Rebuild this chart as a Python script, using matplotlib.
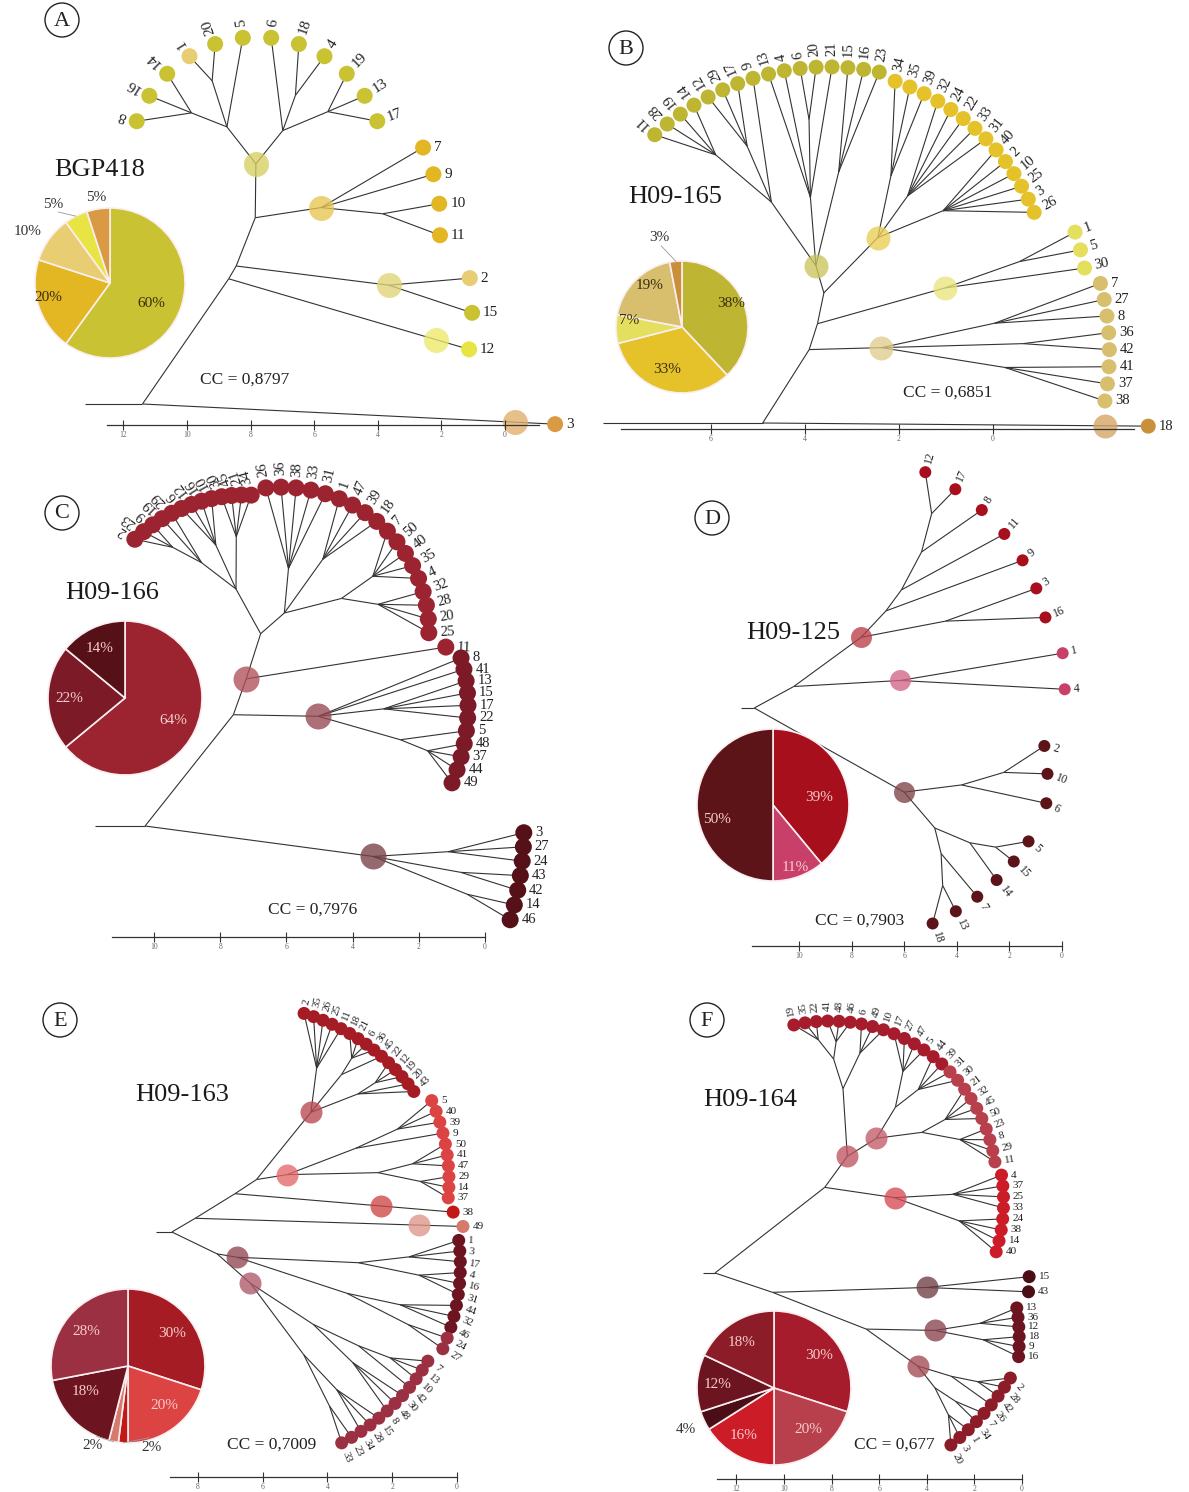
import numpy as np
import matplotlib.pyplot as plt
from matplotlib.collections import LineCollection
from matplotlib.colors import to_rgb
from matplotlib.patches import Circle

plt.rcParams['font.family'] = ['Liberation Serif', 'DejaVu Serif']

# ---------------- data ----------------
# leaves in drawing order (one list per arc group) and their colour category
A_groups = [['8', '16', '14', '1', '20', '5', '6', '18', '4', '19', '13', '17'],
            ['7', '9', '10', '11'], ['2', '15', '12'], ['3']]
A_cats = [[0, 0, 0, 2, 0, 0, 0, 0, 0, 0, 0, 0], [1, 1, 1, 1], [2, 0, 3], [4]]
A_tree = (11.4, [
    (6.1, [
        (5.6, [
            (3.96, [
                (2.5, ['7', '9', (1.2, ['10', '11'])], 'hl'),
                (2.5, [
                    (1.5, [(0.8, ['8', '16', '14']), (0.6, ['1', '20']), '5']),
                    (1.6, ['6', (0.9, ['18', '4']), (0.7, ['19', '13', '17'])]),
                ], 'hl'),
            ]),
            (1.96, ['2', '15'], 'hl'),
        ]),
        (0.85, ['12'], 'hl'),
    ]),
    (1.1, ['3'], 'hl'),
])
A_pie = [60, 20, 10, 5, 5]
A_colors = ['#c9c233', '#e3b624', '#e8cd72', '#e7e443', '#da9a44']

B_groups = [['11', '28', '19', '14', '12', '29', '17', '9', '13', '4', '6', '20', '21', '15', '16', '23'],
            ['34', '35', '39', '32', '24', '22', '33', '31', '40', '2', '10', '25', '3', '26'],
            ['1', '5', '30'], ['7', '27', '8', '36', '42', '41', '37', '38'], ['18']]
B_cats = [[0] * 16, [1] * 14, [2] * 3, [3] * 8, [4]]
B_tree = (4.9, [
    (3.5, [
        (3.1, [
            (2.65, [
                (2.3, [
                    (1.4, [(0.6, ['11', '28', '19', '14']), (0.7, ['12', '29', '17']), '9']),
                    (1.5, ['13', '4', (0.6, ['6', '20']), '21']),
                    (1.2, ['15', '16', '23']),
                ], 'hl'),
                (1.7, [
                    (1.0, ['34', '35', '39']),
                    (1.1, ['32', '24', '22', '33', '31']),
                    (0.9, ['40', '2', '10', '25', '3', '26']),
                ], 'hl'),
            ]),
            (1.6, [(0.7, ['1', '5']), '30'], 'hl'),
        ]),
        (2.65, [(1.3, ['7', '27', '8']), (1.0, ['36', '42']), (1.2, ['41', '37', '38'])], 'hl'),
    ]),
    (0.55, ['18'], 'hl'),
])
B_pie = [38, 33, 7, 19, 3]
B_colors = ['#beb633', '#e5c22a', '#e4df5e', '#d7bf6e', '#c98f3b']

C_groups = [['2', '23', '9', '19', '29', '6', '12', '16', '10', '30', '45', '21', '34'],
            ['26', '36', '38', '33', '31', '1', '47', '39', '18', '7', '50', '40', '35', '4',
             '32', '28', '20', '25'],
            ['11'],
            ['8', '41', '13', '15', '17', '22', '5', '48', '37', '44', '49'],
            ['3', '27', '24', '43', '42', '14', '46']]
C_cats = [[0] * 13, [0] * 18, [0], [1] * 11, [2] * 7]
C_tree = (10.27, [
    (5.65, [
        (4.55, [
            (3.2, [
                (2.05, [
                    (1.2, [(0.6, ['2', '23', '9']), '19', '29']),
                    (1.0, ['6', '12', '16', '10']),
                    (0.9, ['30', '45', '21', '34']),
                ]),
                (2.5, [
                    (1.6, ['26', '36', '38', '33', '31']),
                    (1.2, ['1', '47', '39', '18']),
                    (1.4, [(0.7, ['7', '50', '40', '35', '4']), (0.8, ['32', '28', '20', '25'])]),
                ]),
            ]),
            '11',
        ], 'hl'),
        (3.56, ['8', '41', (2.0, ['13', '15', '17', '22']),
                (1.5, ['5', (0.8, ['48', '37', '44', '49'])])], 'hl'),
    ]),
    (4.0, [(2.0, ['3', '27', '24']), (1.6, ['43', '42']), (1.3, ['14', '46'])], 'hl'),
])
C_pie = [64, 22, 14]
C_colors = ['#9c2430', '#7c1a28', '#561018']

D_groups = [['12', '17', '8', '11', '9', '3', '16'], ['1', '4'], ['2', '10', '6'],
            ['5', '15', '14', '7', '13', '18']]
D_cats = [[0] * 7, [1] * 2, [2] * 3, [2] * 6]
D_tree = (11.7, [
    (9.9, [
        (6.6, [
            (5.2, [(4.2, [(2.6, [(1.2, ['12', '17']), '8']), '11']), '9']),
            (3.5, ['3', '16']),
        ], 'hl'),
        (6.0, ['1', '4'], 'hl'),
    ]),
    (4.7, [
        (2.8, [(1.4, ['2', '10']), '6']),
        (2.9, [(1.6, [(0.8, ['5', '15']), '14']), (2.0, ['7', (1.0, ['13', '18'])])]),
    ], 'hl'),
])
D_pie = [39, 11, 50]
D_colors = ['#a80f1c', '#c8406a', '#5c1418']

E_groups = [['2', '35', '26', '25', '11', '18', '21', '6', '36', '45', '22', '12', '19', '20', '43'],
            ['5', '40', '39', '9', '50', '41', '47', '29', '14', '37'], ['38'], ['49'],
            ['1', '3', '17', '4', '16', '31', '44', '32', '46', '24', '27'],
            ['7', '13', '10', '42', '30', '48', '8', '15', '28', '34', '23', '33']]
E_cats = [[0] * 15, [1] * 10, [2], [3], [4] * 9 + [5, 5], [5] * 12]
E_tree = (8.8, [
    (7.9, [
        (6.35, [
            (5.5, [
                (2.7, [
                    (1.4, ['2', '35', '26', '25', '11']),
                    (1.2, [(0.6, ['18', '21', '6', '36']), '45']),
                    (1.3, [(0.7, ['22', '12', '19']), '20', '43']),
                ], 'hl'),
                (4.6, [
                    (2.5, [(1.2, ['5', '40', '39']), '9']),
                    (2.0, [(1.0, ['50', '41', '47']), (0.8, ['29', '14', '37'])]),
                ], 'hl'),
            ]),
            (2.1, ['38'], 'hl'),
        ]),
        (1.3, ['49'], 'hl'),
    ]),
    (7.2, [
        (6.6, [
            (3.0, [(1.5, ['1', '3', '17']), (1.2, ['4', '16', '31'])]),
            (3.2, [(1.6, ['44', '32', '46']), (1.2, ['24', '27'])]),
        ], 'hl'),
        (5.8, [
            (3.5, [(2.0, [(1.0, ['7', '13', '10']), '42']), (1.8, ['30', '48', '8'])]),
            (3.0, [(1.5, ['15', '28', '34']), (1.2, ['23', '33'])]),
        ], 'hl'),
    ]),
])
E_pie = [30, 20, 2, 2, 18, 28]
E_colors = ['#a61c24', '#dc4444', '#c21818', '#d67a6e', '#6c1420', '#9a3042']

F_groups = [['19', '35', '22', '41', '48', '46', '6', '49', '10', '17', '27', '47', '5', '44', '39',
             '31', '30', '21', '32', '45', '50', '23', '8', '29', '11'],
            ['4', '37', '25', '33', '24', '38', '14', '40'], ['15', '43'],
            ['13', '36', '12', '18', '9', '16'], ['2', '28', '42', '26', '7', '34', '1', '3', '20']]
F_cats = [[0] * 15 + [1] * 10, [2] * 8, [3] * 2, [4] * 6, [5] * 9]
F_tree = (12.9, [
    (6.45, [
        (4.8, [
            (2.35, [(1.3, [(0.6, ['19', '35', '22']), (0.7, ['41', '48', '46'])]),
                    (1.0, ['6', '49', '10'])]),
            (3.5, [
                (2.2, [(1.0, ['17', '27', '47', '5']), (1.2, ['44', '39', '31', '30'])]),
                (2.0, [(1.1, ['21', '32', '45', '50']), (0.9, ['23', '8', '29', '11'])]),
            ], 'hl'),
        ], 'hl'),
        (3.9, [(1.8, ['4', '37', '25', '33']), (1.5, ['24', '38', '14', '40'])], 'hl'),
    ]),
    (10.3, [
        (4.1, ['15', '43'], 'hl'),
        (6.0, [
            (3.3, [(1.5, ['13', '36', '12']), (1.4, ['18', '9', '16'])], 'hl'),
            (3.35, [(2.0, [(1.0, ['2', '28', '42']), '26']),
                    (2.2, [(1.2, ['7', '34']), (1.0, ['1', '3', '20'])])], 'hl'),
        ]),
    ]),
])
F_pie = [30, 20, 16, 4, 12, 18]
F_colors = ['#a61c2c', '#b8404c', '#cc1c28', '#4c0e16', '#6c1420', '#8c1c28']

names = ['BGP418', 'H09-165', 'H09-166', 'H09-125', 'H09-163', 'H09-164']
cc_values = ['0,8797', '0,6851', '0,7976', '0,7903', '0,7009', '0,677']
letters = ['A', 'B', 'C', 'D', 'E', 'F']

# ---------------- layout (pixels) ----------------
W, H = 1189, 1492
layouts = [
    dict(x0=505, k=31.8, axis_y=425, bar=(107, 539), tmax=12, root_y=404, stub=1.8,
         center=(257, 165), leaf_d=16, fs=11,
         arcs=[(160, 20, 128, 128, 'radial'), (6, -21, 167, 196, 'flat'),
               (-28, -41, 241, 281, 'flat'), (-41, -41, 395, 395, 'flat')],
         pie=(110, 283, 75), pie_lab=[(0.62, -8, 0), (0.85, -5, 0), (1.3, 4, 0), (1.3, 9, 1), (1.15, 0, 0)],
         pie_txt='#3b2c10', name=(100, 170), letter=(62, 20), cc=(245, 380)),
    dict(x0=993, k=47, axis_y=429, bar=(621, 1134), tmax=6, root_y=423, stub=3.4,
         center=(840, 320), leaf_d=15, fs=10.5,
         arcs=[(135, 81, 262, 251, 'radial'), (77, 29, 245, 222, 'radial'),
               (20.5, 12, 251, 250, 'radial'), (8, -17, 263, 277, 'flat'), (-19, -19, 326, 326, 'flat')],
         pie=(682, 327, 66), pie_lab=[(0.82, 4, 0), (0.68, -3, 0), (0.8, -9, 0), (0.8, -7, 0), (1.4, 9, 1)],
         pie_txt='#3b2c10', name=(675, 197), letter=(626, 48), cc=(948, 393)),
    dict(x0=485, k=33.1, axis_y=937, bar=(112, 485), tmax=10, root_y=826, stub=1.5,
         center=(290, 640), leaf_d=17, fs=10.5,
         arcs=[(147, 105, 185, 150, 'radial'), (99, 3, 154, 139, 'radial'), (-2.6, -2.6, 156, 156, 'radial'),
               (-6, -41.4, 172, 216, 'flat'), (-39.5, -51.8, 303, 356, 'flat')],
         pie=(125, 698, 77), pie_lab=[(0.7, 0, 0), (0.72, 0, 0), (0.72, 2, 0)],
         pie_txt='#f6cccc', name=(112, 593), letter=(62, 513), cc=(313, 910)),
    dict(x0=1062, k=26.3, axis_y=946, bar=(752, 1062), tmax=10, root_y=708, stub=0.5,
         center=(860, 700), leaf_d=12, fs=8.5,
         arcs=[(74, 24, 237, 203, 'radial'), (13, 3, 208, 205, 'radial'),
               (-14, -29, 190, 213, 'radial'), (-40, -72, 220, 235, 'radial')],
         pie=(773, 805, 76), pie_lab=[(0.62, -11, 0), (0.88, 0, 0), (0.76, 15, 0)],
         pie_txt='#f6cccc', name=(793, 633), letter=(712, 518), cc=(860, 921)),
    dict(x0=457, k=32.4, axis_y=1477, bar=(170, 457), tmax=8, root_y=1232, stub=0.5,
         center=(260, 1230), leaf_d=13, fs=8,
         arcs=[(78.5, 42, 221, 207, 'radial'), (37, 9.7, 215, 191, 'flat'), (5.3, 5.3, 194, 194, 'flat'),
               (1, 1, 203, 203, 'flat'), (-3, -33, 199, 218, 'radial'), (-38, -69, 213, 228, 'radial')],
         pie=(128, 1366, 77),
         pie_lab=[(0.71, 0, 0), (0.7, 7, 0), (1.1, 20, 1), (1.13, -13, 1), (0.65, -12, 0), (0.7, 0, 0)],
         pie_txt='#f6cccc', name=(182, 1095), letter=(60, 1020), cc=(272, 1445)),
    dict(x0=1022, k=23.8, axis_y=1479, bar=(717, 1022), tmax=12, root_y=1273, stub=0.5,
         center=(830, 1188), leaf_d=13, fs=8,
         arcs=[(102.5, 9, 167, 167, 'radial'), (4.3, -21, 172, 178, 'flat'), (-24, -27.6, 218, 224, 'flat'),
               (-32.7, -41.8, 222, 253, 'flat'), (-46.5, -64.8, 262, 284, 'radial')],
         pie=(774, 1388, 77),
         pie_lab=[(0.72, 0, 0), (0.7, 3, 0), (0.73, -4, 0), (1.27, 0, 0), (0.74, 0, 0), (0.72, 3, 0)],
         pie_txt='#f6cccc', name=(750, 1100), letter=(707, 1020), cc=(894, 1445)),
]

fig = plt.figure(figsize=(W / 100, H / 100), dpi=100)
ax = fig.add_axes([0, 0, 1, 1])
ax.set_xlim(0, W)
ax.set_ylim(H, 0)
ax.axis('off')


def leaves_of(node):
    if isinstance(node, str):
        return [node]
    out = []
    for kid in node[1]:
        out += leaves_of(kid)
    return out


def draw_panel(tree, groups, cats, colors, pie_vals, name, cc, letter, lay):
    x0, k = lay['x0'], lay['k']
    cx, cy = lay['center']
    pos, col = {}, {}

    # leaves along their arcs
    for labels, cs, (a0, a1, r0, r1, style) in zip(groups, cats, lay['arcs']):
        t = np.linspace(0, 1, len(labels)) if len(labels) > 1 else np.zeros(1)
        for lab, c, ti in zip(labels, cs, t):
            a = np.radians(a0 + (a1 - a0) * ti)
            r = r0 + (r1 - r0) * ti
            p = np.array([cx + r * np.cos(a), cy - r * np.sin(a)])
            pos[lab], col[lab] = p, colors[c]
            off = lay['leaf_d'] / 2 + 3
            if style == 'radial':
                tp = p + off * np.array([np.cos(a), -np.sin(a)])
                ax.text(tp[0], tp[1], lab, rotation=np.degrees(a), rotation_mode='anchor',
                        ha='left', va='center', fontsize=lay['fs'], color='#222')
            else:
                ax.text(p[0] + off, p[1], lab, ha='left', va='center', fontsize=lay['fs'], color='#222')

    segs, hls = [], []

    def place(node, ppos, ph):
        if isinstance(node, str):
            segs.append([ppos, pos[node]])
            return
        h, kids = node[0], node[1]
        lv = leaves_of(node)
        c = np.mean([pos[l] for l in lv], axis=0)
        p = ppos + (1 - h / ph) * (c - ppos)
        segs.append([ppos, p])
        if len(node) > 2:
            rgb = np.mean([to_rgb(col[l]) for l in lv], axis=0)
            hls.append((p, rgb * 0.8 + 0.2))
        for kid in kids:
            place(kid, p, h)

    top = tree[0]
    root = np.array([x0 - k * top, lay['root_y']])
    segs.append([np.array([x0 - k * (top + lay['stub']), lay['root_y']]), root])
    for kid in tree[1]:
        place(kid, root, top)

    ax.add_collection(LineCollection(segs, colors='#333333', linewidths=0.8, zorder=1))
    s_hl = ((lay['leaf_d'] + 9) * 0.72) ** 2
    for p, rgb in hls:
        ax.scatter(p[0], p[1], s=s_hl, color=rgb, alpha=0.78, lw=0, zorder=2)
    labs = list(pos)
    ax.scatter([pos[l][0] for l in labs], [pos[l][1] for l in labs], s=(lay['leaf_d'] * 0.72) ** 2,
               c=[col[l] for l in labs], lw=0, zorder=3)

    # panel letter, sample name, cophenetic correlation
    lx, ly = lay['letter']
    ax.add_patch(Circle((lx, ly), 17, fill=False, lw=1.0, ec='#222'))
    ax.text(lx, ly + 1, letter, ha='center', va='center', fontsize=16, color='#222')
    ax.text(*lay['name'], name, ha='center', va='center', fontsize=19, color='#1a1a1a')
    ax.text(*lay['cc'], 'CC = ' + cc, ha='center', va='center', fontsize=12.5, color='#222')

    # distance scale
    b0, b1 = lay['bar']
    sax = fig.add_axes([b0 / W, 1 - lay['axis_y'] / H, (b1 - b0) / W, 1e-4])
    sax.set_xlim((x0 - b0) / k, (x0 - b1) / k)
    for s in ['top', 'left', 'right']:
        sax.spines[s].set_visible(False)
    sax.spines['bottom'].set_linewidth(0.9)
    sax.spines['bottom'].set_color('#333')
    sax.patch.set_alpha(0)
    sax.set_yticks([])
    sax.set_xticks(np.arange(0, lay['tmax'] + 1, 2))
    sax.tick_params(axis='x', direction='inout', length=7, width=0.8, labelsize=5.5, pad=1,
                    color='#333', labelcolor='#666')

    # composition pie
    pcx, pcy, pr = lay['pie']
    pax = fig.add_axes([(pcx - pr) / W, 1 - (pcy + pr) / H, 2 * pr / W, 2 * pr / H])
    pax.pie(pie_vals, colors=colors, startangle=90, counterclock=False,
            wedgeprops=dict(edgecolor='#fbeef0', linewidth=1.2))
    pax.set_xlim(-1, 1)
    pax.set_ylim(-1, 1)
    start = 90.0
    for v, (rf, da, lead) in zip(pie_vals, lay['pie_lab']):
        span = 360.0 * v / sum(pie_vals)
        mid = start - span / 2
        start -= span
        ang = np.radians(mid + da)
        tc = lay['pie_txt'] if rf < 1 else '#333'
        pax.text(rf * np.cos(ang), rf * np.sin(ang), f'{v}%', ha='center', va='center',
                 fontsize=11, color=tc, clip_on=False)
        if lead:
            m = np.radians(mid)
            pax.plot([np.cos(m), (rf - 0.13) * np.cos(ang)], [np.sin(m), (rf - 0.13) * np.sin(ang)],
                     color='#999', lw=0.6, clip_on=False)


panels = [
    (A_tree, A_groups, A_cats, A_colors, A_pie),
    (B_tree, B_groups, B_cats, B_colors, B_pie),
    (C_tree, C_groups, C_cats, C_colors, C_pie),
    (D_tree, D_groups, D_cats, D_colors, D_pie),
    (E_tree, E_groups, E_cats, E_colors, E_pie),
    (F_tree, F_groups, F_cats, F_colors, F_pie),
]
for i, (tree, groups, cats, colors, pie_vals) in enumerate(panels):
    draw_panel(tree, groups, cats, colors, pie_vals, names[i], cc_values[i], letters[i], layouts[i])

fig.savefig('out.png', dpi=100)
